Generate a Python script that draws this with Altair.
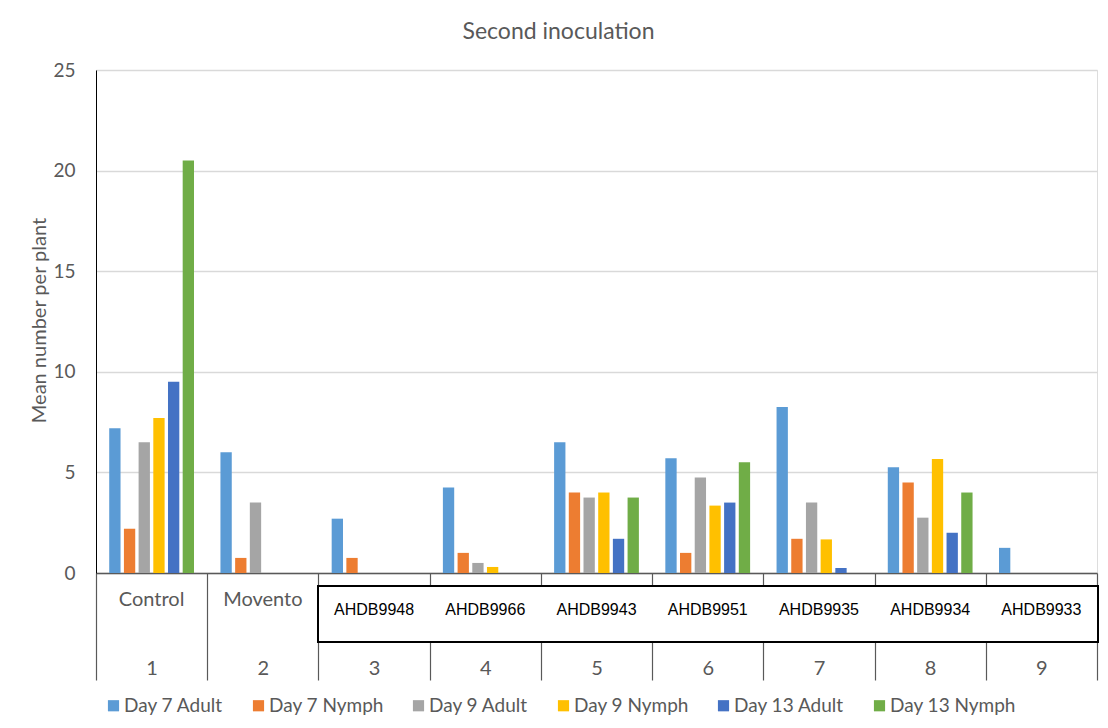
import altair as alt
import pandas as pd

groups = ["1", "2", "3", "4", "5", "6", "7", "8", "9"]
treatments = ["Control", "Movento", "AHDB9948", "AHDB9966", "AHDB9943",
              "AHDB9951", "AHDB9935", "AHDB9934", "AHDB9933"]
series = ["Day 7 Adult", "Day 7 Nymph", "Day 9 Adult", "Day 9 Nymph",
          "Day 13 Adult", "Day 13 Nymph"]
colors = ["#5B9BD5", "#ED7D31", "#A5A5A5", "#FFC000", "#4472C4", "#70AD47"]

day7_adult = [7.2, 6.0, 2.7, 4.25, 6.5, 5.7, 8.25, 5.25, 1.25]
day7_nymph = [2.2, 0.75, 0.75, 1.0, 4.0, 1.0, 1.7, 4.5, 0]
day9_adult = [6.5, 3.5, 0, 0.5, 3.75, 4.75, 3.5, 2.75, 0]
day9_nymph = [7.7, 0, 0, 0.3, 4.0, 3.35, 1.67, 5.67, 0]
day13_adult = [9.5, 0, 0, 0, 1.7, 3.5, 0.25, 2.0, 0]
day13_nymph = [20.5, 0, 0, 0, 3.75, 5.5, 0, 4.0, 0]

y_ticks = [0, 5, 10, 15, 20, 25]

series_values = [day7_adult, day7_nymph, day9_adult, day9_nymph, day13_adult, day13_nymph]
rows = []
for s, vals in zip(series, series_values):
    for g, v in zip(groups, vals):
        rows.append({"grp": g, "series": s, "value": v})
df = pd.DataFrame(rows)

lab_df = pd.DataFrame({"grp": groups, "treatment": treatments})
lab_excel = lab_df.iloc[:2]
lab_ahdb = lab_df.iloc[2:]

CAL = "Lato"
GRAY = "#595959"

W, H = 1001, 503

x_enc = alt.X(
    "grp:N", sort=groups,
    scale=alt.Scale(paddingInner=0, paddingOuter=0),
    axis=alt.Axis(
        title=None, labelAngle=0, tickBand="extent", tickSize=107,
        tickColor=GRAY, tickWidth=1.2, domainColor=GRAY, domainWidth=1.5,
        labelFont=CAL, labelFontSize=20, labelColor=GRAY, labelPadding=-22,
    ),
)

bars = alt.Chart(df).mark_bar().encode(
    x=x_enc,
    xOffset=alt.XOffset("series:N", sort=series,
                        scale=alt.Scale(paddingInner=0.23, paddingOuter=0.9)),
    y=alt.Y("value:Q",
            scale=alt.Scale(domain=[0, 25], nice=False),
            axis=alt.Axis(
                values=y_ticks, title="Mean number per plant",
                titleFont=CAL, titleFontSize=20, titleColor=GRAY,
                titleFontWeight="normal", titleX=-57, titleY=250,
                titleAlign="center", titleBaseline="middle",
                labelFont=CAL, labelFontSize=19, labelColor=GRAY,
                labelPadding=21, ticks=False, domainColor="#000000",
                domainWidth=1, gridColor="#D9D9D9", gridWidth=1.3,
            )),
    color=alt.Color("series:N", sort=series,
                    scale=alt.Scale(domain=series, range=colors),
                    legend=alt.Legend(
                        title=None, orient="none", direction="horizontal",
                        columns=6, legendX=8, legendY=626,
                        symbolType="square", symbolSize=125,
                        symbolStrokeWidth=0, labelFont=CAL,
                        labelFontSize=19, labelColor=GRAY,
                        labelOffset=1, columnPadding=25,
                    )),
)

excel_labels = alt.Chart(lab_excel).mark_text(
    font=CAL, fontSize=20, color=GRAY, baseline="middle"
).encode(
    x=alt.X("grp:N", sort=groups),
    y=alt.value(530),
    text="treatment:N",
)

box = alt.Chart(pd.DataFrame({"k": [0]})).mark_rect(
    fill="white", stroke="#000000", strokeWidth=2
).encode(
    x=alt.value(222), x2=alt.value(1002),
    y=alt.value(516), y2=alt.value(572),
)

ahdb_labels = alt.Chart(lab_ahdb).mark_text(
    font="Liberation Sans", fontSize=16, color="#000000", baseline="middle"
).encode(
    x=alt.X("grp:N", sort=groups),
    y=alt.value(540),
    text="treatment:N",
)

border = alt.Chart(pd.DataFrame({"k": [0]})).mark_rect(
    fill="transparent", stroke="#D0D0D0", strokeWidth=1.5
).encode(
    x=alt.value(-89), x2=alt.value(1030),
    y=alt.value(-65), y2=alt.value(700),
)

chart = alt.layer(border, bars, excel_labels, box, ahdb_labels).properties(
    width=W, height=H,
    title=alt.TitleParams(
        "Second inoculation", font=CAL, fontSize=23, color=GRAY,
        fontWeight="normal", anchor="middle", dx=-38, offset=0, dy=40,
    ),
    autosize=alt.AutoSizeParams(type="none"),
    padding={"left": 88, "top": 62, "right": 3, "bottom": 145},
).configure_view(strokeWidth=0).configure(background="white")

chart.save("out.html", embed_options={"renderer": "svg", "actions": False})
